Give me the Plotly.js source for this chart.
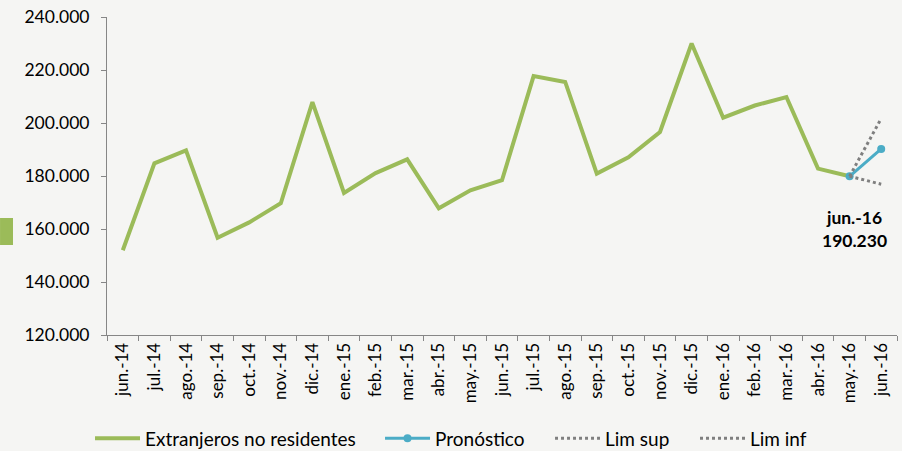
<!DOCTYPE html>
<html>
<head>
<meta charset="utf-8">
<script src="https://cdn.plot.ly/plotly-3.0.1.min.js"></script>
<style>html,body{margin:0;padding:0;background:#f5f5f3;}#chart{width:902px;height:451px;}</style>
</head>
<body>
<div id="chart"></div>
<script>
const categories = ["jun.-14","jul.-14","ago.-14","sep.-14","oct.-14","nov.-14","dic.-14","ene.-15","feb.-15","mar.-15","abr.-15","may.-15","jun.-15","jul.-15","ago.-15","sep.-15","oct.-15","nov.-15","dic.-15","ene.-16","feb.-16","mar.-16","abr.-16","may.-16","jun.-16"];
const extranjeros = [152000,184800,189700,156700,162500,169700,207900,173600,181100,186300,167800,174600,178400,217700,215500,180900,187100,196600,230000,202000,206600,209800,182800,179900,null];
const forecastCats = ["may.-16","jun.-16"];
const pronostico = [179900,190230];
const limSup = [179900,201700];
const limInf = [179900,176900];
const yTickVals = [120000,140000,160000,180000,200000,220000,240000];
const yTickText = ["120.000","140.000","160.000","180.000","200.000","220.000","240.000"];

const FONT = "Lato, 'Open Sans', sans-serif";
const traces = [
  {x: categories, y: extranjeros, name: "Extranjeros no residentes", type: "scatter", mode: "lines",
   line: {color: "#9bbb59", width: 4}, legend: "legend"},
  {x: forecastCats, y: pronostico, name: "Pronóstico", type: "scatter", mode: "lines+markers",
   line: {color: "#4bacc6", width: 3}, marker: {color: "#4bacc6", size: 8}, legend: "legend2"},
  {x: forecastCats, y: limSup, name: "Lim sup", type: "scatter", mode: "lines",
   line: {color: "#7f7f7f", width: 3, dash: "dot"}, legend: "legend3"},
  {x: forecastCats, y: limInf, name: "Lim inf", type: "scatter", mode: "lines",
   line: {color: "#7f7f7f", width: 3, dash: "dot"}, legend: "legend4"}
];
function leg(x) {
  return {orientation: "h", x: x, xanchor: "left", y: -0.325, yanchor: "middle", itemwidth: 45,
          font: {family: FONT, size: 19, color: "#000"}, bgcolor: "rgba(0,0,0,0)"};
}
const layout = {
  width: 902, height: 451,
  paper_bgcolor: "#f5f5f3", plot_bgcolor: "#f5f5f3",
  margin: {l: 107, r: 5, t: 17, b: 116, autoexpand: false},
  font: {family: FONT, size: 17, color: "#000"},
  showlegend: true,
  legend: leg(-0.0215), legend2: leg(0.3456), legend3: leg(0.5608), legend4: leg(0.7443),
  xaxis: {type: "category", categoryorder: "array", categoryarray: categories,
          range: [-0.5, 24.5], tickangle: -90, showline: true, linecolor: "#868686", linewidth: 1,
          ticks: "outside", ticklen: 5, tickcolor: "#868686", tickson: "boundaries",
          showgrid: false, zeroline: false, tickfont: {family: FONT, size: 17, color: "#000"}},
  yaxis: {range: [120000, 240000], tickvals: yTickVals, ticktext: yTickText, showline: true,
          linecolor: "#868686", linewidth: 1, ticks: "outside", ticklen: 5, tickcolor: "#868686",
          ticklabelstandoff: 8,
          showgrid: false, zeroline: false, tickfont: {family: FONT, size: 17.5, color: "#000"}},
  annotations: [{x: forecastCats[1], y: pronostico[1], xref: "x", yref: "y",
    text: "<b>" + forecastCats[1] + "<br>" + "190.230" + "</b>", showarrow: false,
    xshift: -27, yshift: -80, font: {family: FONT, size: 17.5, color: "#000"}, align: "center"}],
  shapes: [{type: "rect", xref: "paper", yref: "paper", x0: -0.1354, x1: -0.119, y0: 0.283, y1: 0.368,
    fillcolor: "#9bbb59", line: {width: 0}, layer: "above"}]
};
Plotly.newPlot("chart", traces, layout, {displayModeBar: false, staticPlot: true});
</script>
</body>
</html>
